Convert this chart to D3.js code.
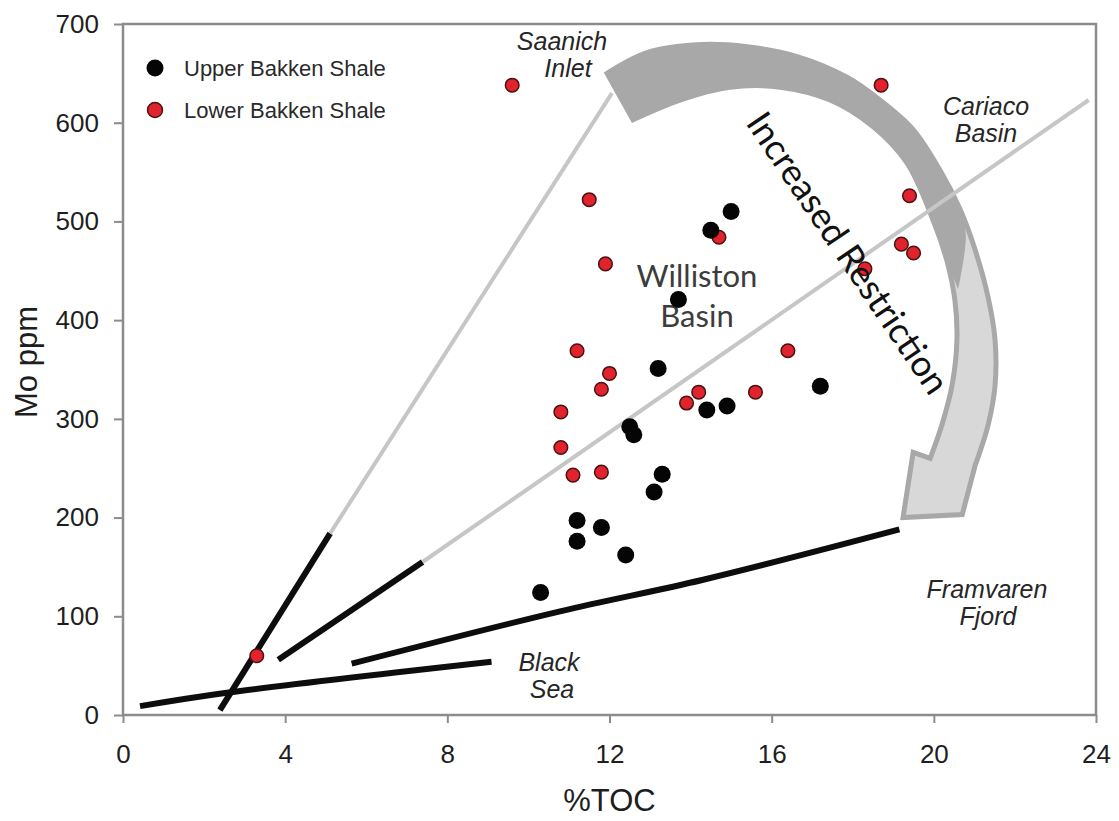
<!DOCTYPE html>
<html>
<head>
<meta charset="utf-8">
<script src="https://cdn.jsdelivr.net/npm/d3@7"></script>
<style>
  html, body { margin: 0; padding: 0; background: #fff; }
  svg { display: block; }
</style>
</head>
<body>
<svg id="chart" width="1119" height="821"></svg>
<script>
// Mo (ppm) versus total organic carbon (%TOC), Bakken shales
const xTicks = [0, 4, 8, 12, 16, 20, 24];
const yTicks = [0, 100, 200, 300, 400, 500, 600, 700];

// Upper Bakken Shale samples: [%TOC, Mo ppm]
const upperTOC = [15.0, 14.5, 13.7, 13.2, 17.2, 14.4, 14.9, 12.5, 12.6, 13.3, 13.1, 11.2, 11.8, 11.2, 12.4, 10.3];
const upperMo  = [510, 491, 421, 351, 333, 309, 313, 292, 284, 244, 226, 197, 190, 176, 162, 124];

// Lower Bakken Shale samples: [%TOC, Mo ppm]
const lowerTOC = [9.6, 18.7, 11.5, 19.4, 14.7, 11.9, 19.2, 19.5, 18.3, 11.2, 16.4, 12.0, 11.8, 14.2, 15.6, 13.9, 10.8, 10.8, 11.1, 11.8, 3.3];
const lowerMo  = [638, 638, 522, 526, 484, 457, 477, 468, 452, 369, 369, 346, 330, 327, 327, 316, 307, 271, 243, 246, 60];

// Modern anoxic basin Mo/TOC regression trends
const saanichBlack  = [[2.39, 5], [5.11, 184]];
const saanichGray   = [[5.11, 184], [12.06, 630]];
const cariacoBlack  = [[3.83, 56], [7.39, 155]];
const cariacoGray   = [[7.39, 155], [23.82, 623]];
const framvarenLine = [[5.64, 52], [10.78, 105], [14.31, 137], [19.15, 188]];
const blackSeaLine  = [[0.42, 9], [2.56, 22.6], [9.09, 54]];

// Curved "Increased Restriction" arrow outline, in axis units
const arrowOuter = [[11.94, 650], [12.92, 671], [14.16, 679], [15.39, 677], [16.63, 667], [17.86, 646],
                    [18.67, 623], [19.49, 593], [20.15, 552], [20.65, 512], [21.02, 471], [21.34, 423],
                    [21.51, 380], [21.51, 334], [21.34, 294], [21.02, 253]];
const arrowHead  = [[20.70, 203], [19.24, 200], [19.49, 266]];
const arrowInner = [[19.91, 260], [20.20, 294], [20.45, 334], [20.57, 380], [20.52, 420], [20.33, 459],
                    [20.03, 496], [19.34, 559], [18.50, 596], [17.44, 623], [16.21, 636], [14.97, 636],
                    [13.74, 623], [12.58, 603]];
const bandOuter  = [[11.94, 650], [12.92, 671], [14.16, 679], [15.39, 677], [16.63, 667], [17.86, 646],
                    [18.67, 623], [19.49, 593], [20.15, 552], [20.65, 512], [20.79, 486], [20.60, 431]];
const bandInner  = [[20.33, 459], [20.03, 496], [19.34, 559], [18.50, 596], [17.44, 623], [16.21, 636],
                    [14.97, 636], [13.74, 623], [12.58, 603]];

const legendItems = ["Upper Bakken Shale", "Lower Bakken Shale"];

const svg = d3.select("#chart");
const margin = { left: 123, right: 23, top: 24, bottom: 106 };
const W = 1119, H = 821;

const x = d3.scaleLinear().domain([0, 24]).range([margin.left, W - margin.right]);
const y = d3.scaleLinear().domain([0, 700]).range([H - margin.bottom, margin.top]);

const axisColor = "#8c8c8c";
const labelFont = "'Liberation Sans', Arial, sans-serif";
const calFont = "Lato, 'Open Sans', sans-serif";

// axes
const gx = svg.append("g")
  .attr("transform", `translate(0,${y(0)})`)
  .call(d3.axisBottom(x).tickValues(xTicks).tickSize(8).tickPadding(22).tickFormat(d3.format("d")));
const gy = svg.append("g")
  .attr("transform", `translate(${x(0)},0)`)
  .call(d3.axisLeft(y).tickValues(yTicks).tickSize(9).tickPadding(15).tickFormat(d3.format("d")));
[gx, gy].forEach(g => {
  g.select(".domain").remove();
  g.selectAll(".tick line").attr("stroke", axisColor).attr("stroke-width", 2);
  g.selectAll(".tick text").attr("fill", "#1e1e1e").style("font-family", labelFont).style("font-size", "26px");
});

// plot frame
svg.append("rect")
  .attr("x", x(0)).attr("y", y(700))
  .attr("width", x(24) - x(0)).attr("height", y(0) - y(700))
  .attr("fill", "none").attr("stroke", axisColor).attr("stroke-width", 2.5);

// axis titles
svg.append("text")
  .attr("x", (x(0) + x(24)) / 2).attr("y", 811)
  .attr("text-anchor", "middle")
  .style("font-family", labelFont).style("font-size", "31px").attr("fill", "#1e1e1e")
  .text("%TOC");
svg.append("text")
  .attr("transform", `translate(37,362) rotate(-90)`)
  .attr("text-anchor", "middle")
  .style("font-family", labelFont).style("font-size", "31px").attr("fill", "#1e1e1e")
  .text("Mo ppm");

const line = d3.line().x(d => x(d[0])).y(d => y(d[1]));
const smooth = d3.line().x(d => x(d[0])).y(d => y(d[1])).curve(d3.curveCatmullRom);

// black trend segments
const blackStroke = "#0d0d0d";
[saanichBlack, cariacoBlack].forEach(seg => {
  svg.append("path").attr("d", line(seg)).attr("fill", "none")
    .attr("stroke", blackStroke).attr("stroke-width", 6);
});
[framvarenLine, blackSeaLine].forEach(seg => {
  svg.append("path").attr("d", smooth(seg)).attr("fill", "none")
    .attr("stroke", blackStroke).attr("stroke-width", 6);
});

// curved arrow: light body with darker outline, then the darker upper band
const arrowPath = smooth(arrowOuter) + line(arrowHead).replace(/^M/, "L") + smooth(arrowInner).replace(/^M/, "L") + "Z";
svg.append("path").attr("d", arrowPath)
  .attr("fill", "#d8d8d8").attr("stroke", "#a8a8a8").attr("stroke-width", 5).attr("stroke-linejoin", "miter");
const bandPath = smooth(bandOuter) + smooth(bandInner).replace(/^M/, "L") + "Z";
svg.append("path").attr("d", bandPath).attr("fill", "#a8a8a8");

// light grey trend extensions
[saanichGray, cariacoGray].forEach(seg => {
  svg.append("path").attr("d", line(seg)).attr("fill", "none")
    .attr("stroke", "#c6c6c6").attr("stroke-width", 4);
});

// basin labels
const italic = (lines, cx, baselines) => {
  lines.forEach((t, i) => {
    svg.append("text")
      .attr("x", cx[i]).attr("y", baselines[i])
      .attr("text-anchor", "middle")
      .style("font-family", labelFont).style("font-size", "25px").style("font-style", "italic")
      .attr("fill", "#262626").text(t);
  });
};
italic(["Saanich", "Inlet"], [562, 568], [50, 77]);
italic(["Cariaco", "Basin"], [986, 986], [115, 142]);
italic(["Framvaren", "Fjord"], [987, 988], [598, 625]);
italic(["Black", "Sea"], [549, 552], [671, 698]);

svg.append("text").attr("x", 697).attr("y", 287).attr("text-anchor", "middle")
  .style("font-family", calFont).style("font-size", "31px").attr("fill", "#3c3c3c").text("Williston");
svg.append("text").attr("x", 697).attr("y", 327).attr("text-anchor", "middle")
  .style("font-family", calFont).style("font-size", "31px").attr("fill", "#3c3c3c").text("Basin");

// data points
const upper = upperTOC.map((v, i) => [v, upperMo[i]]);
const lower = lowerTOC.map((v, i) => [v, lowerMo[i]]);

svg.append("g").selectAll("circle").data(lower).join("circle")
  .attr("cx", d => x(d[0])).attr("cy", d => y(d[1])).attr("r", 6.8)
  .attr("fill", "#e0232c").attr("stroke", "#4a1212").attr("stroke-width", 1.5);
svg.append("g").selectAll("circle").data(upper).join("circle")
  .attr("cx", d => x(d[0])).attr("cy", d => y(d[1])).attr("r", 8.5)
  .attr("fill", "#050505");

// arrow caption
svg.append("text")
  .attr("transform", "translate(848,253) rotate(56)")
  .attr("text-anchor", "middle").attr("dy", "0.35em")
  .style("font-family", calFont).style("font-size", "36px").attr("fill", "#111")
  .text("Increased Restriction");

// legend
const lg = svg.append("g");
legendItems.forEach((name, i) => {
  const cy = 68 + i * 42;
  if (i === 0) {
    lg.append("circle").attr("cx", 155).attr("cy", cy).attr("r", 8.5).attr("fill", "#050505");
  } else {
    lg.append("circle").attr("cx", 155).attr("cy", cy).attr("r", 7.5)
      .attr("fill", "#e0232c").attr("stroke", "#4a1212").attr("stroke-width", 1.5);
  }
  lg.append("text").attr("x", 184).attr("y", cy + 7.5)
    .style("font-family", labelFont).style("font-size", "22px").attr("fill", "#2a2a2a")
    .text(name);
});
</script>
</body>
</html>
